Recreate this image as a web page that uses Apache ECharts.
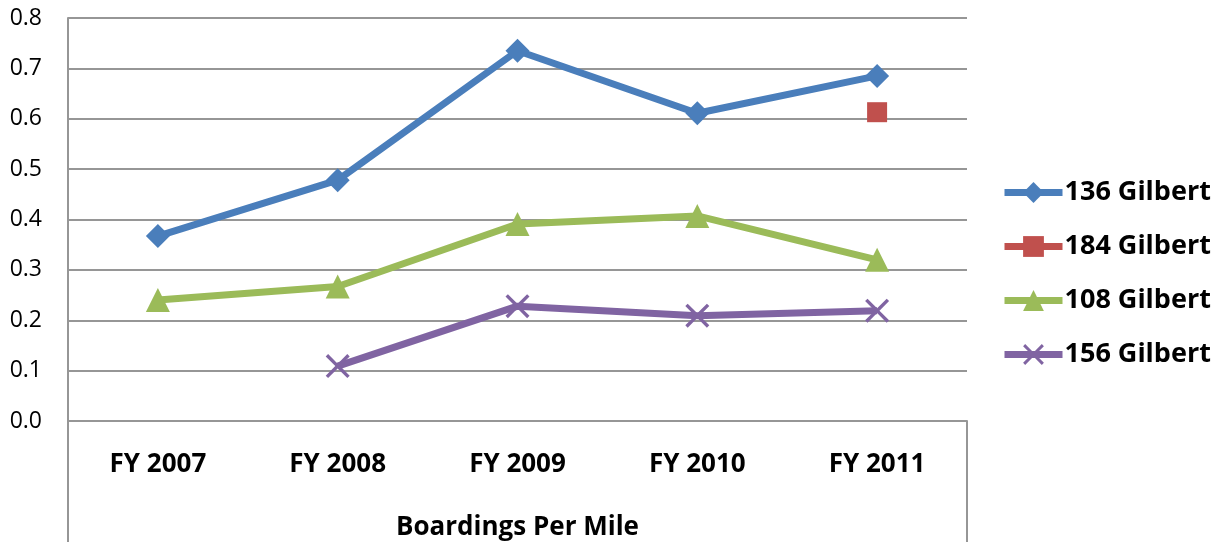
<!DOCTYPE html>
<html>
<head>
<meta charset="utf-8" />
<script src="https://cdn.jsdelivr.net/npm/echarts@6/dist/echarts.min.js"></script>
<style>
  html, body { margin: 0; padding: 0; background: #fff; }
  #chart { width: 1225px; height: 542px; }
</style>
</head>
<body>
<div id="chart"></div>
<script>
// data
var years = ["FY 2007", "FY 2008", "FY 2009", "FY 2010", "FY 2011"];
var gilbert136 = [0.367, 0.478, 0.735, 0.611, 0.685];
var gilbert184 = [null, null, null, null, 0.613];
var gilbert108 = [0.24, 0.267, 0.391, 0.407, 0.32];
var gilbert156 = [null, 0.109, 0.228, 0.209, 0.219];

var font = "Open Sans";
var gridColor = "#969696";
// x shape for 156 Gilbert
var crossPath = "path://M0,1 L1,0 L5,4 L9,0 L10,1 L6,5 L10,9 L9,10 L5,6 L1,10 L0,9 L4,5 Z";

var chart = echarts.init(document.getElementById("chart"));

var option = {
  animation: false,
  textStyle: { fontFamily: font },
  grid: {
    left: 68,
    right: 258,
    top: 18,
    bottom: 121,
    outerBoundsMode: "none",
  },
  legend: {
    orient: "vertical",
    left: 996,
    top: 174,
    itemWidth: 58,
    itemHeight: 26,
    itemGap: 27,
    lineStyle: { width: 7 },
    textStyle: {
      fontFamily: font,
      fontWeight: "bold",
      fontSize: 27,
      color: "#000",
      padding: [0, 0, 0, -3],
    },
    data: ["136 Gilbert", "184 Gilbert", "108 Gilbert", "156 Gilbert"],
  },
  xAxis: {
    type: "category",
    data: years,
    boundaryGap: true,
    name: "Boardings Per Mile",
    nameLocation: "middle",
    nameGap: 94,
    nameTextStyle: {
      fontFamily: font,
      fontWeight: "bold",
      fontSize: 26,
      color: "#000",
    },
    axisLine: { lineStyle: { color: gridColor, width: 2 } },
    axisTick: { show: false },
    axisLabel: {
      margin: 31,
      fontFamily: font,
      fontWeight: "bold",
      fontSize: 26,
      color: "#000",
    },
  },
  yAxis: {
    type: "value",
    min: 0,
    max: 0.8,
    interval: 0.1,
    axisLine: { show: true, lineStyle: { color: gridColor, width: 2 } },
    axisTick: { show: false },
    axisLabel: {
      margin: 26,
      fontFamily: font,
      fontSize: 23,
      color: "#000",
      formatter: function (v) {
        return v.toFixed(1);
      },
    },
    splitLine: { lineStyle: { color: gridColor, width: 2 } },
  },
  // frame lines around the category label area
  graphic: [
    {
      type: "line",
      shape: { x1: 68, y1: 18, x2: 68, y2: 542 },
      style: { stroke: gridColor, lineWidth: 2 },
    },
    {
      type: "line",
      shape: { x1: 967, y1: 421, x2: 967, y2: 542 },
      style: { stroke: gridColor, lineWidth: 2 },
    },
  ],
  series: [
    {
      name: "136 Gilbert",
      type: "line",
      data: gilbert136,
      color: "#4a7ebb",
      lineStyle: { width: 7 },
      symbol: "diamond",
      symbolSize: 24,
      itemStyle: { color: "#4a7ebb" },
    },
    {
      name: "184 Gilbert",
      type: "line",
      data: gilbert184,
      color: "#c0504d",
      lineStyle: { width: 7 },
      symbol: "rect",
      symbolSize: 20,
      itemStyle: { color: "#c0504d" },
    },
    {
      name: "108 Gilbert",
      type: "line",
      data: gilbert108,
      color: "#9bbb59",
      lineStyle: { width: 7 },
      symbol: "triangle",
      symbolSize: 24,
      itemStyle: { color: "#9bbb59" },
    },
    {
      name: "156 Gilbert",
      type: "line",
      data: gilbert156,
      color: "#8064a2",
      lineStyle: { width: 7 },
      symbol: crossPath,
      symbolSize: 24,
      itemStyle: { color: "#8064a2" },
    },
  ],
};
chart.setOption(option);
</script>
</body>
</html>
